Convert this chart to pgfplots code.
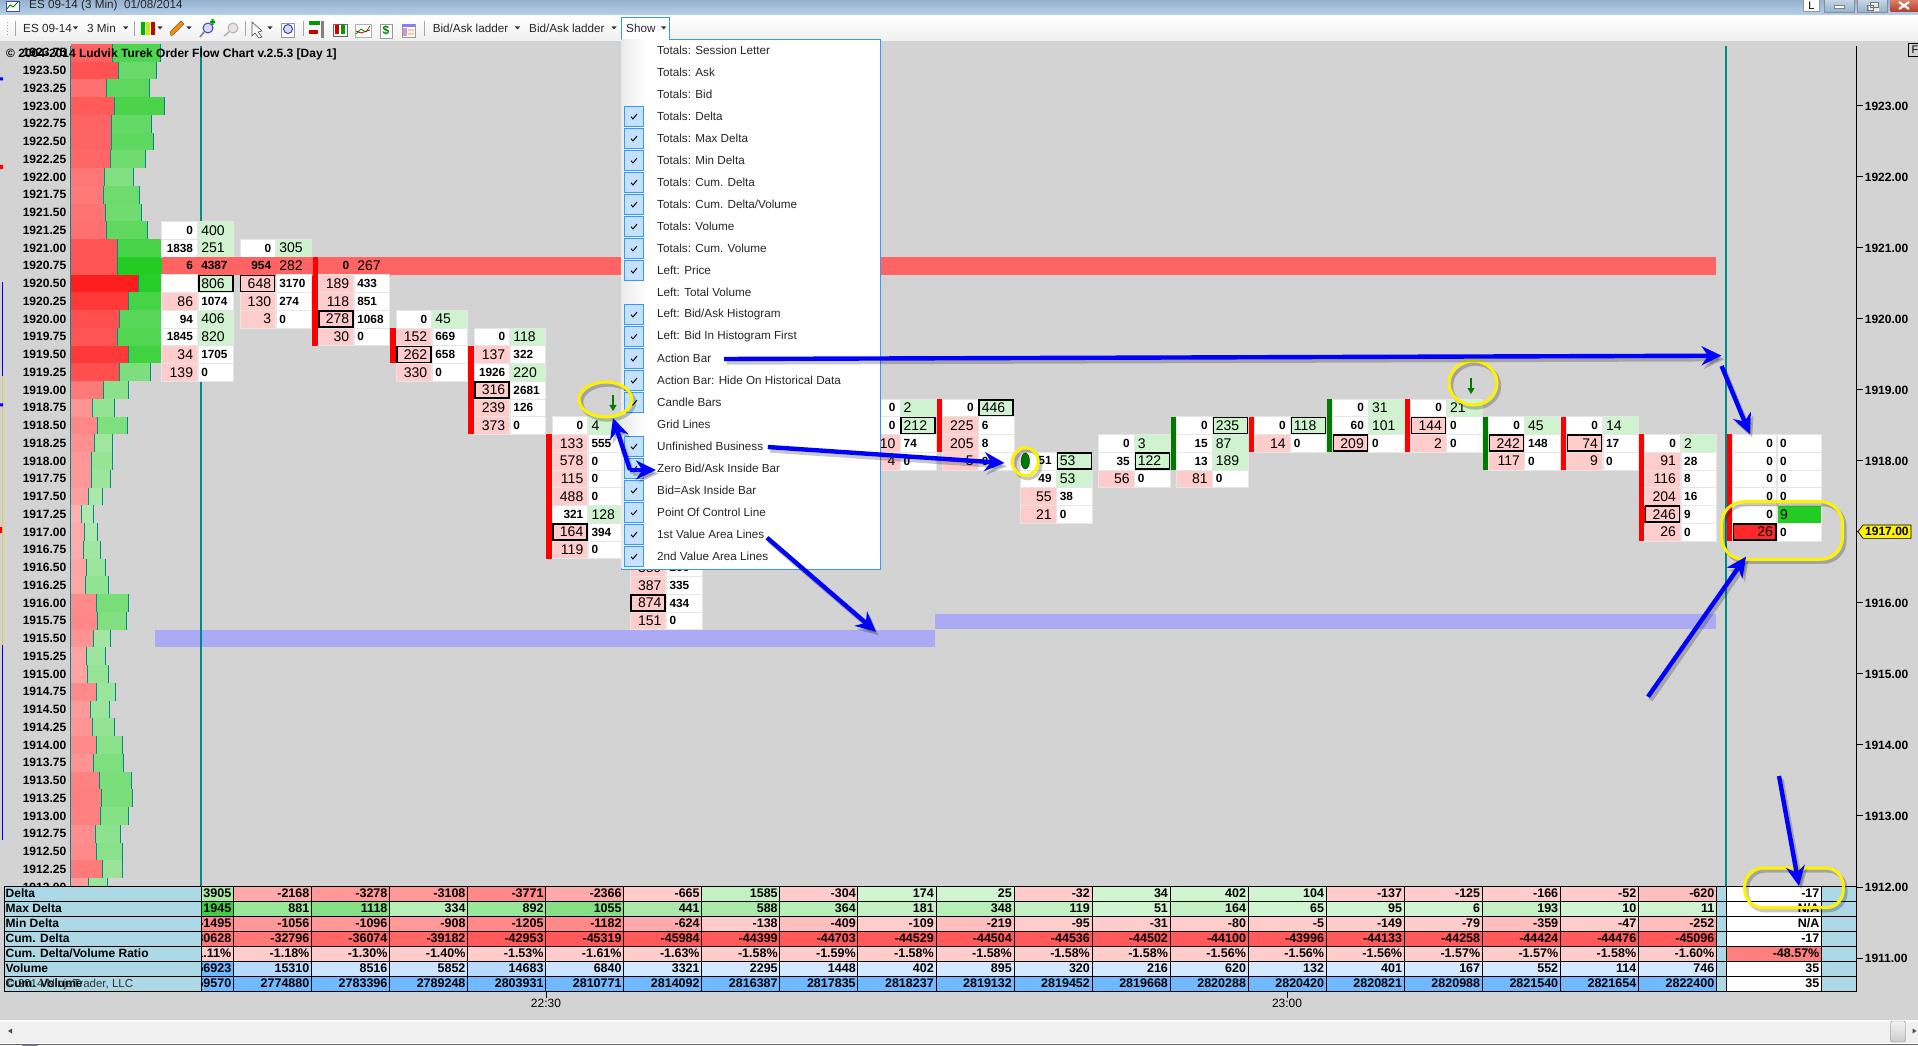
\documentclass[border=0pt]{standalone}
\usepackage{fontspec}
\setmainfont{Liberation Sans}
\usepackage{pgfplots}
\usepackage{pgfplotstable}
\pgfplotsset{compat=1.18}
\usetikzlibrary{arrows.meta}
\definecolor{pk}{HTML}{FFCCCC}
\definecolor{gn}{HTML}{CFF2CF}
\definecolor{cellb}{HTML}{E6E6E6}
\definecolor{vr}{HTML}{FF6464}
\definecolor{va}{HTML}{AAAAF5}
\definecolor{chart}{HTML}{D3D3D3}
\definecolor{tl}{HTML}{008B8B}
\definecolor{lb}{HTML}{ADD8E6}
\definecolor{dg}{HTML}{007A00}
\definecolor{mb}{HTML}{3399FF}
\definecolor{g0}{HTML}{D0F5D0}\definecolor{g1}{HTML}{C4F0C4}\definecolor{g2}{HTML}{B8EFB8}\definecolor{g3}{HTML}{ACE9A8}
\definecolor{g4}{HTML}{99E899}\definecolor{g5}{HTML}{85E085}\definecolor{g6}{HTML}{44CC44}
\definecolor{r0}{HTML}{FFCCCC}\definecolor{r1}{HTML}{FFBEBE}\definecolor{r2}{HTML}{FFAAAA}\definecolor{r3}{HTML}{FF9999}
\definecolor{r4}{HTML}{FF8888}\definecolor{r5}{HTML}{FF7777}\definecolor{r6}{HTML}{FF6666}\definecolor{r7}{HTML}{FF5959}
\definecolor{b0}{HTML}{D4E8FF}\definecolor{b1}{HTML}{CCE4FF}\definecolor{b2}{HTML}{B8DAFF}\definecolor{b3}{HTML}{70B8FF}
% plot marks, 1pt = 1 pixel of the reference
\pgfdeclareplotmark{cb}{\pgfpathrectangle{\pgfqpoint{-17.8pt}{-8.875pt}}{\pgfqpoint{35.6pt}{17.75pt}}\pgfusepathqfillstroke}
\pgfdeclareplotmark{cx}{\pgfpathrectangle{\pgfqpoint{-17pt}{-8pt}}{\pgfqpoint{34pt}{16pt}}\pgfusepathqfillstroke}
\pgfdeclareplotmark{lb}{\pgfpathrectangle{\pgfqpoint{-22pt}{-8.875pt}}{\pgfqpoint{44pt}{17.75pt}}\pgfusepathqfillstroke}
\pgfdeclareplotmark{lx}{\pgfpathrectangle{\pgfqpoint{-21.2pt}{-8pt}}{\pgfqpoint{42.4pt}{16pt}}\pgfusepathqfillstroke}
\pgfdeclareplotmark{tb}{\pgfpathrectangle{\pgfqpoint{-39.025pt}{-7.5pt}}{\pgfqpoint{78.05pt}{15pt}}\pgfusepathqfillstroke}
\pgfdeclareplotmark{tl}{\pgfpathrectangle{\pgfqpoint{-56.475pt}{-7.5pt}}{\pgfqpoint{95.5pt}{15pt}}\pgfusepathqfillstroke}
\pgfdeclareplotmark{tk}{\pgfpathmoveto{\pgfqpoint{0pt}{0pt}}\pgfpathlineto{\pgfqpoint{7pt}{0pt}}\pgfusepathqstroke}
\pgfdeclareplotmark{tm}{\pgfpathmoveto{\pgfqpoint{0pt}{0pt}}\pgfpathlineto{\pgfqpoint{0pt}{-6pt}}\pgfusepathqstroke}
\pgfdeclareplotmark{dn}{\pgfpathrectangle{\pgfqpoint{-.8pt}{-2pt}}{\pgfqpoint{1.6pt}{10pt}}\pgfusepathqfill
 \pgfpathmoveto{\pgfqpoint{-3.6pt}{-2pt}}\pgfpathlineto{\pgfqpoint{3.6pt}{-2pt}}\pgfpathlineto{\pgfqpoint{0pt}{-8pt}}\pgfpathclose\pgfusepathqfill}
\pgfdeclareplotmark{ub}{\pgfpathellipse{\pgfqpoint{0pt}{0pt}}{\pgfqpoint{4.3pt}{0pt}}{\pgfqpoint{0pt}{8pt}}\pgfusepathqfillstroke}
\pgfplotsset{
 cellcls/.style n args={2}{scatter/classes={
  w={mark=#1,fill=white,draw=cellb,line width=.7pt},
  p={mark=#1,fill=pk,draw=cellb,line width=.7pt},
  g={mark=#1,fill=gn,draw=cellb,line width=.7pt},
  r={mark=#1,fill=vr,draw=vr,line width=.2pt},
  R={mark=#1,fill=vr,draw=vr,line width=.2pt},
  P={mark=#2,fill=pk,draw=black,line width=1.6pt},
  G={mark=#2,fill=gn,draw=black,line width=1.6pt},
  S={mark=#1,fill={rgb,255:red,34;green,204;blue,34},draw=cellb,line width=.7pt},
  T={mark=#2,fill={rgb,255:red,255;green,40;blue,40},draw=black,line width=1.6pt}}},
 tcls/.style={scatter/classes={
  g0={mark=tb,fill=g0,draw=black,line width=.9pt},g1={mark=tb,fill=g1,draw=black,line width=.9pt},
  g2={mark=tb,fill=g2,draw=black,line width=.9pt},g3={mark=tb,fill=g3,draw=black,line width=.9pt},
  g4={mark=tb,fill=g4,draw=black,line width=.9pt},g5={mark=tb,fill=g5,draw=black,line width=.9pt},
  g6={mark=tb,fill=g6,draw=black,line width=.9pt},
  r0={mark=tb,fill=r0,draw=black,line width=.9pt},r1={mark=tb,fill=r1,draw=black,line width=.9pt},
  r2={mark=tb,fill=r2,draw=black,line width=.9pt},r3={mark=tb,fill=r3,draw=black,line width=.9pt},
  r4={mark=tb,fill=r4,draw=black,line width=.9pt},r5={mark=tb,fill=r5,draw=black,line width=.9pt},
  r6={mark=tb,fill=r6,draw=black,line width=.9pt},r7={mark=tb,fill=r7,draw=black,line width=.9pt},
  b0={mark=tb,fill=b0,draw=black,line width=.9pt},b1={mark=tb,fill=b1,draw=black,line width=.9pt},
  b2={mark=tb,fill=b2,draw=black,line width=.9pt},b3={mark=tb,fill=b3,draw=black,line width=.9pt},
  n={mark=tl,fill=white,draw=black,line width=.9pt},x={mark=tl,fill={rgb,255:red,255;green,127;blue,127},draw=black,line width=.9pt}}},
 lbl/.style={only marks,mark=none,point meta=explicit symbolic,clip=false,
   every node near coord/.append style={anchor=#1,inner sep=0pt,text=black}},
}
\def\cf{\ifdim\cls pt>0.5pt \bfseries\fontsize{11.8}{12}\else\fontsize{14}{14}\fi\selectfont}
\newcommand\addflag[3]{\pgfplotstablecreatecol[create col/assign/.code={\getthisrow{#2}\cc\def\res{0}\if w\cc\def\res{1}\fi\if r\cc\def\res{1}\fi\pgfkeyslet{/pgfplots/table/create col/next content}\res}]{#3}{#1}}
\pgfplotstableread{
col price bid bc ask ac
0 1921.25 0 w 400 g
0 1921.00 1838 w 251 g
0 1920.75 6 r 4387 r
0 1920.50 {} w 806 G
0 1920.25 86 p 1074 w
0 1920.00 94 w 406 g
0 1919.75 1845 w 820 g
0 1919.50 34 p 1705 w
0 1919.25 139 p 0 w
1 1921.00 0 w 305 g
1 1920.75 954 r 282 R
1 1920.50 648 P 3170 w
1 1920.25 130 p 274 w
1 1920.00 3 p 0 w
2 1920.75 0 r 267 R
2 1920.50 189 p 433 w
2 1920.25 118 p 851 w
2 1920.00 278 P 1068 w
2 1919.75 30 p 0 w
3 1920.00 0 w 45 g
3 1919.75 152 p 669 w
3 1919.50 262 P 658 w
3 1919.25 330 p 0 w
4 1919.75 0 w 118 g
4 1919.50 137 p 322 w
4 1919.25 1926 w 220 g
4 1919.00 316 P 2681 w
4 1918.75 239 p 126 w
4 1918.50 373 p 0 w
5 1918.50 0 w 4 g
5 1918.25 133 p 555 w
5 1918.00 578 p 0 w
5 1917.75 115 p 0 w
5 1917.50 488 p 0 w
5 1917.25 321 w 128 g
5 1917.00 164 P 394 w
5 1916.75 119 p 0 w
6 1916.50 389 p 266 w
6 1916.25 387 p 335 w
6 1916.00 874 P 434 w
6 1915.75 151 p 0 w
9 1918.75 0 w 2 g
9 1918.50 0 w 212 G
9 1918.25 10 p 74 w
9 1918.00 4 p 0 w
10 1918.75 0 w 446 G
10 1918.50 225 p 6 w
10 1918.25 205 p 8 w
10 1918.00 5 p 0 w
11 1918.00 51 w 53 G
11 1917.75 49 w 53 g
11 1917.50 55 p 38 w
11 1917.25 21 p 0 w
12 1918.25 0 w 3 g
12 1918.00 35 w 122 G
12 1917.75 56 p 0 w
13 1918.50 0 w 235 G
13 1918.25 15 w 87 g
13 1918.00 13 w 189 g
13 1917.75 81 p 0 w
14 1918.50 0 w 118 G
14 1918.25 14 p 0 w
15 1918.75 0 w 31 g
15 1918.50 60 w 101 g
15 1918.25 209 P 0 w
16 1918.75 0 w 21 g
16 1918.50 144 P 0 w
16 1918.25 2 p 0 w
17 1918.50 0 w 45 g
17 1918.25 242 P 148 w
17 1918.00 117 p 0 w
18 1918.50 0 w 14 g
18 1918.25 74 P 17 w
18 1918.00 9 p 0 w
19 1918.25 0 w 2 g
19 1918.00 91 p 28 w
19 1917.75 116 p 8 w
19 1917.50 204 p 16 w
19 1917.25 246 P 9 w
19 1917.00 26 p 0 w
}\cells
\pgfplotstableread{
price bid bc ask ac
1918.25 0 w 0 w
1918.00 0 w 0 w
1917.75 0 w 0 w
1917.50 0 w 0 w
1917.25 0 w 9 S
1917.00 26 T 0 w
}\livecells
\addflag{\cells}{bc}{bf}
\addflag{\cells}{ac}{af}
\addflag{\livecells}{bc}{bf}
\addflag{\livecells}{ac}{af}
\pgfplotstableread{
col D Dc M Mc N Nc C Cc Q Qc V Vc U Uc
0 3905 g3 1945 g6 -1495 r4 -30628 r5 -1.11 r0 56923 b3 2759570 b3
1 -2168 r2 881 g4 -1056 r3 -32796 r5 -1.18 r0 15310 b2 2774880 b3
2 -3278 r3 1118 g5 -1096 r3 -36074 r6 -1.30 r0 8516 b1 2783396 b3
3 -3108 r3 334 g2 -908 r3 -39182 r6 -1.40 r0 5852 b1 2789248 b3
4 -3771 r4 892 g4 -1205 r4 -42953 r7 -1.53 r0 14683 b2 2803931 b3
5 -2366 r2 1055 g5 -1182 r4 -45319 r7 -1.61 r0 6840 b1 2810771 b3
6 -665 r0 441 g3 -624 r2 -45984 r7 -1.63 r0 3321 b0 2814092 b3
7 1585 g1 588 g3 -138 r0 -44399 r7 -1.58 r0 2295 b0 2816387 b3
8 -304 r0 364 g2 -409 r1 -44703 r7 -1.59 r0 1448 b0 2817835 b3
9 174 g0 181 g1 -109 r0 -44529 r7 -1.58 r0 402 b0 2818237 b3
10 25 g0 348 g2 -219 r1 -44504 r7 -1.58 r0 895 b0 2819132 b3
11 -32 r0 119 g1 -95 r0 -44536 r7 -1.58 r0 320 b0 2819452 b3
12 34 g0 51 g0 -31 r0 -44502 r7 -1.58 r0 216 b0 2819668 b3
13 402 g0 164 g1 -80 r0 -44100 r7 -1.56 r0 620 b0 2820288 b3
14 104 g0 65 g0 -5 r0 -43996 r7 -1.56 r0 132 b0 2820420 b3
15 -137 r0 95 g0 -149 r0 -44133 r7 -1.56 r0 401 b0 2820821 b3
16 -125 r0 6 g0 -79 r0 -44258 r7 -1.57 r0 167 b0 2820988 b3
17 -166 r0 193 g1 -359 r1 -44424 r7 -1.57 r0 552 b0 2821540 b3
18 -52 r0 10 g0 -47 r0 -44476 r7 -1.58 r0 114 b0 2821654 b3
19 -620 r1 11 g0 -252 r1 -45096 r7 -1.60 r0 746 b0 2822400 b3
20.346 -17 n N/A n N/A n -17 n -48.57 x 35 n 35 n
}\tab
\pgfplotstableread{
p
1923.75
1923.50
1923.25
1923.00
1922.75
1922.50
1922.25
1922.00
1921.75
1921.50
1921.25
1921.00
1920.75
1920.50
1920.25
1920.00
1919.75
1919.50
1919.25
1919.00
1918.75
1918.50
1918.25
1918.00
1917.75
1917.50
1917.25
1917.00
1916.75
1916.50
1916.25
1916.00
1915.75
1915.50
1915.25
1915.00
1914.75
1914.50
1914.25
1914.00
1913.75
1913.50
1913.25
1913.00
1912.75
1912.50
1912.25
1912.00
}\leftp
\pgfplotstableread{
p
1923.00
1922.00
1921.00
1920.00
1919.00
1918.00
1917.00
1916.00
1915.00
1914.00
1913.00
1912.00
1911.00
}\rightp
% histogram row: price, end of bid part, end of ask part (read in crop units, 2.45 per pixel)
\newcommand\h[3]{%
 \pgfmathsetmacro\rx{#2/2.45}\pgfmathsetmacro\gx{#3/2.45}%
 \pgfmathsetmacro\ya{#1-.125}\pgfmathsetmacro\yb{#1+.125}%
 \pgfmathtruncatemacro\gv{205-175*min(1,(#2-173)/167)}%
 \pgfmathtruncatemacro\ra{207-173*min(1,(#3-#2)/160)}%
 \pgfmathtruncatemacro\ga{240-36*min(1,(#3-#2)/160)}%
 \edef\tmp{\noexpand\addplot[draw=none,fill={rgb,255:red,255;green,\gv;blue,\gv}] coordinates {(70.6,\ya)(\rx,\ya)(\rx,\yb)(70.6,\yb)} -- cycle;
 \noexpand\addplot[draw=none,fill={rgb,255:red,\ra;green,\ga;blue,\ra}] coordinates {(\rx,\ya)(\gx,\ya)(\gx,\yb)(\rx,\yb)} -- cycle;
 \noexpand\addplot[tl,line width=.9pt] coordinates {(\rx,\ya)(\rx,\yb)};
 \noexpand\addplot[tl,line width=.9pt] coordinates {(\gx,\ya)(\gx,\yb)};}\tmp}
% action bar: x, top price, bottom price, colour
\newcommand\ab[4]{\pgfmathsetmacro\ya{#2+.125}\pgfmathsetmacro\yb{#3-.125}%
 \edef\tmp{\noexpand\addplot[#4,line width=5.3pt] coordinates {(#1,\ya)(#1,\yb)};}\tmp}
\newcommand\trow[4]{%
 \addplot[scatter,only marks,point meta=explicit symbolic,tcls,scatter src=explicit symbolic] table[x expr=233.5+78.05*\thisrow{col}-39.025,y expr={1923-(893.5+15*#1-106)/71},meta=#3]{\tab};
 \addplot[lbl=east,nodes near coords={\bfseries\fontsize{12.5}{12.5}\selectfont\pgfplotspointmeta#4}] table[x expr=233.5+78.05*\thisrow{col}-2,y expr={1923-(893.5+15*#1-106)/71},meta=#2]{\tab};}
\begin{document}
\begin{tikzpicture}[x=1pt,y=1pt]
% window and chart background (pixel frame, y downwards)
\begin{scope}[y=-1pt,yshift=1045pt]
 \fill[chart] (0,41) rectangle (1918,1020);
\end{scope}
\begin{axis}[at={(0,0)},anchor=south west,scale only axis,width=1918pt,height=1045pt,
 xmin=0,xmax=1918,ymin=1909.7746,ymax=1924.49296,hide axis,clip=false]
 % value area lines
 \addplot[draw=none,fill=vr] coordinates {(155.4,1920.875)(1716,1920.875)(1716,1920.625)(155.4,1920.625)} -- cycle;
 \addplot[draw=none,fill=va] coordinates {(155.4,1915.62)(935,1915.62)(935,1915.385)(155.4,1915.385)} -- cycle;
 \addplot[draw=none,fill=va] coordinates {(935,1915.85)(1716,1915.85)(1716,1915.63)(935,1915.63)} -- cycle;
 % ladder cells
 \addplot[scatter,only marks,point meta=explicit symbolic,cellcls={cb}{cx}] table[x expr=155.45+78.05*\thisrow{col}+24.15,y=price,meta=bc]{\cells};
 \addplot[scatter,only marks,point meta=explicit symbolic,cellcls={cb}{cx}] table[x expr=155.45+78.05*\thisrow{col}+60.3,y=price,meta=ac]{\cells};
 \addplot[scatter,only marks,point meta=explicit symbolic,cellcls={lb}{lx}] table[x expr=1754.5,y=price,meta=bc]{\livecells};
 \addplot[scatter,only marks,point meta=explicit symbolic,cellcls={lb}{lx}] table[x expr=1799.6,y=price,meta=ac]{\livecells};
 \addplot[lbl=east,visualization depends on={\thisrow{bf}\as\cls},nodes near coords={\cf\pgfplotspointmeta}] table[x expr=155.45+78.05*\thisrow{col}+37.8,y=price,meta=bid]{\cells};
 \addplot[lbl=west,visualization depends on={\thisrow{af}\as\cls},nodes near coords={\cf\pgfplotspointmeta}] table[x expr=155.45+78.05*\thisrow{col}+45.6,y=price,meta=ask]{\cells};
 \addplot[lbl=east,visualization depends on={\thisrow{bf}\as\cls},nodes near coords={\cf\pgfplotspointmeta}] table[x expr=1773,y=price,meta=bid]{\livecells};
 \addplot[lbl=west,visualization depends on={\thisrow{af}\as\cls},nodes near coords={\cf\pgfplotspointmeta}] table[x expr=1780,y=price,meta=ask]{\livecells};
 % action bars
 \ab{315}{1920.75}{1919.75}{red}
 \ab{393}{1919.75}{1919.50}{red}
 \ab{471}{1919.50}{1918.50}{red}
 \ab{549.1}{1918.25}{1916.75}{red}
 \ab{939.4}{1918.75}{1918.25}{red}
 \ab{1173.6}{1918.50}{1918.00}{dg}
 \ab{1251.6}{1918.50}{1918.25}{red}
 \ab{1329.7}{1918.75}{1918.25}{dg}
 \ab{1407.7}{1918.75}{1918.25}{red}
 \ab{1485.8}{1918.50}{1918.00}{dg}
 \ab{1563.8}{1918.50}{1918.00}{red}
 \ab{1641.9}{1918.25}{1917.00}{red}
 \ab{1729.5}{1918.25}{1917.00}{red}
 % histogram
 \h{1923.75}{275}{393}\h{1923.50}{290}{384}\h{1923.25}{261}{366}\h{1923.00}{281}{403}
 \h{1922.75}{273}{371}\h{1922.50}{273}{376}\h{1922.25}{270}{357}\h{1922.00}{256}{327}
 \h{1921.75}{253}{342}\h{1921.50}{259}{347}\h{1921.25}{261}{362}\h{1921.00}{288}{413}
 \h{1920.75}{288}{450}\h{1920.50}{340}{493}\h{1920.25}{315}{440}\h{1920.00}{293}{401}
 \h{1919.75}{288}{403}\h{1919.50}{315}{447}\h{1919.25}{293}{369}\h{1919.00}{253}{315}
 \h{1918.75}{227}{281}\h{1918.50}{239}{313}\h{1918.25}{231}{275}\h{1918.00}{224}{275}
 \h{1917.75}{224}{270}\h{1917.50}{217}{251}\h{1917.25}{199}{229}\h{1917.00}{207}{239}
 \h{1916.75}{204}{246}\h{1916.50}{212}{259}\h{1916.25}{209}{266}\h{1916.00}{236}{315}
 \h{1915.75}{239}{310}\h{1915.50}{229}{271}\h{1915.25}{212}{259}\h{1915.00}{214}{266}
 \h{1914.75}{236}{283}\h{1914.50}{221}{268}\h{1914.25}{226}{281}\h{1914.00}{236}{300}
 \h{1913.75}{229}{303}\h{1913.50}{244}{322}\h{1913.25}{248}{325}\h{1913.00}{246}{315}
 \h{1912.75}{234}{295}\h{1912.50}{236}{300}\h{1912.25}{251}{300}\h{1912.00}{217}{264}
 \addplot[tl,line width=.8pt] coordinates {(70.4,1923.845)(70.4,1912)};
 % left prices
 \addplot[lbl=east,nodes near coords={\bfseries\fontsize{12}{12}\selectfont\pgfplotspointmeta}] table[x expr=66.4,y=p,meta=p]{\leftp};
 % action arrows and unfinished business
 \addplot[only marks,mark=dn,dg,mark options={fill=dg,draw=dg}] coordinates {(613,1918.817)(1471,1919.056)};
 \addplot[only marks,mark=ub,mark options={fill=dg,draw=black,line width=.3pt}] coordinates {(1025.3,1918.0)};
 % teal session lines
 \addplot[tl,line width=1.1pt] coordinates {(201,1923.845)(201,1912)};
 \addplot[tl,line width=1.1pt] coordinates {(1726,1923.845)(1726,1912)};
 % totals table
 \trow{0}{D}{Dc}{}
 \trow{1}{M}{Mc}{}
 \trow{2}{N}{Nc}{}
 \trow{3}{C}{Cc}{}
 \trow{4}{Q}{Qc}{\%}
 \trow{5}{V}{Vc}{}
 \trow{6}{U}{Uc}{}
 % price axis
 \addplot[black,line width=1.2pt] coordinates {(1856.3,1923.845)(1856.3,1910.535)};
 \addplot[only marks,mark=tk,black,line width=1pt,point meta=explicit symbolic,nodes near coords={\bfseries\fontsize{12}{12}\selectfont\pgfplotspointmeta},
   every node near coord/.append style={anchor=west,inner sep=0pt,xshift=8pt,text=black}] table[x expr=1856.3,y=p,meta=p]{\rightp};
 % time axis
 \addplot[only marks,mark=tm,black,line width=.9pt,point meta=explicit symbolic,nodes near coords={\fontsize{12}{12}\selectfont\pgfplotspointmeta},
   every node near coord/.append style={anchor=north,inner sep=0pt,yshift=-7pt,text=black}] table[x=x,y=y,meta=t]{
 x y t
 546 1910.521 22:30
 1287 1910.521 23:00
 };
\end{axis}
% everything that is not data: window chrome, menu, annotations, in reference pixels
\begin{scope}[y=-1pt,yshift=1045pt]
 % label cells of table and its right end
 \foreach \j/\t in {0/{Delta},1/{Max Delta},2/{Min Delta},3/{Cum. Delta},4/{Cum. Delta/Volume Ratio},5/{Volume},6/{Cum. Volume}}{
  \fill[lb,draw=black,line width=.9pt] (4,886+15*\j) rectangle (201,901+15*\j);
  \node[anchor=west,inner sep=0pt,font=\bfseries\fontsize{12}{12}\selectfont] at (5.5,893.5+15*\j) {\t};
 }
 \fill[lb,draw=black,line width=.9pt] (1716,886) rectangle (1726,991);
 \fill[lb,draw=black,line width=.9pt] (1821.5,886) rectangle (1856.3,991);
 \foreach \j in {1,...,6}{\draw[black,line width=.9pt] (1716,886+15*\j) -- (1726,886+15*\j) (1821.5,886+15*\j) -- (1856.3,886+15*\j);}
 \node[anchor=west,inner sep=0pt,text=black!80,font=\fontsize{11.5}{12}\selectfont] at (6,985) {© 2014 NinjaTrader, LLC};
 % left-edge markers
 \draw[blue,line width=.8pt] (2.4,282) -- (2.4,376) (2.4,645) -- (2.4,840);
 \draw[yellow!85!black,line width=.8pt] (2.4,376) -- (2.4,645);
 \fill[blue] (0,77.5) rectangle (3,80.5) (0,403.5) rectangle (3,406.5);
 \fill[red] (0,165) rectangle (3,169) (0,527) rectangle (2,533);
 % chart title
 \node[anchor=west,inner sep=0pt,font=\bfseries\fontsize{12}{12}\selectfont] at (6,54) {© 2004-2014 Ludvik Turek Order Flow Chart v.2.5.3 [Day 1]};
 % F box
 \draw[black,fill=chart,line width=.9pt] (1908.5,43.5) rectangle (1920,56.5);
 \node[inner sep=0pt,font=\fontsize{11}{12}\selectfont] at (1915,50) {F};
 % current price tag
 \fill[yellow,draw=black,line width=.7pt] (1858,531.7) -- (1863,525) -- (1911,525) -- (1911,538.4) -- (1863,538.4) -- cycle;
 \node[anchor=west,inner sep=0pt,font=\bfseries\fontsize{12}{12}\selectfont] at (1865,531.7) {1917.00};
 % title bar and toolbar
 \shade[top color={rgb,255:red,150;green,178;blue,208},bottom color={rgb,255:red,186;green,210;blue,234}] (0,0) rectangle (1918,16);
 \shade[top color=white,bottom color={rgb,255:red,240;green,240;blue,240}] (0,16) rectangle (1918,41);
 \fill[white,draw=blue!40!gray,line width=.6pt] (6,1) rectangle (19,11);
 \draw[green!50!black,line width=.9pt] (7,9) -- (10,5) -- (13,7) -- (18,2);
 \node[anchor=west,inner sep=0pt,font=\fontsize{11.7}{12}\selectfont,text=black!85] at (29,5.5) {ES 09-14 (3 Min)\ \ 01/08/2014};
 \foreach \x/\t in {23/{ES 09-14},87/{3 Min},432.6/{Bid/Ask ladder},529/{Bid/Ask ladder}}{
  \node[anchor=west,inner sep=0pt,font=\fontsize{11.7}{12}\selectfont,text=black!85] at (\x,28) {\t};}
 \foreach \x in {75.5,125.7,160,189,270,517.5,614}{\fill[black!80] (\x-2.5,26.5) -- (\x+2.5,26.5) -- (\x,29.5) -- cycle;}
 \foreach \x in {15.5,134.7,245,303,424.5}{\draw[black!35,line width=.7pt] (\x,21) -- (\x,36);}
 \foreach \y in {22,25,28,31,34}{\fill[black!35] (6.5,\y) rectangle (8,\y+1.4);}
 % toolbar icons
 \fill[green!70!black] (141,22) rectangle (145,35); \fill[yellow!80!green] (146,22) rectangle (150,35); \fill[red!80!black] (151,22) rectangle (155,35);
 \fill[orange!90!yellow,draw=black!60,line width=.4pt] (171,36) -- (170,32) -- (181,21) -- (184,24) -- (173,35) -- cycle;
 \draw[blue!50!gray,fill=blue!15,line width=1pt] (208,28) circle (5); \draw[gray,line width=1.6pt] (204,32) -- (200,37); \fill[green!60!black] (210,21) rectangle (215,23) (211.5,19) rectangle (213.5,25);
 \draw[gray!60,fill=gray!20,line width=1pt] (233,28) circle (5); \draw[gray!60,line width=1.6pt] (229,32) -- (224,36);
 \fill[white,draw=black!70,line width=.6pt] (252,22) -- (262,31) -- (258,32) -- (262,37) -- (259,38) -- (255,33) -- (252,36) -- cycle;
 \fill[white,draw=black!40,line width=.5pt] (281,23) rectangle (294,37); \draw[blue!50!gray,fill=blue!15,line width=1pt] (288,29) circle (4.5);
 \fill[green!60!black] (309,21) rectangle (320,25); \fill[red!80!black] (309,30) rectangle (318,34); \fill[black!50] (321,21) rectangle (324,38);
 \fill[red!80!black] (335,25) rectangle (339,34); \fill[green!60!black] (341,25) rectangle (345,34); \draw[black!60,line width=.6pt] (333,24) rectangle (347,36);
 \fill[white,draw=black!30,line width=.5pt] (355,24) rectangle (371,37); \draw[green!60!black,line width=.8pt] (356,34) -- (361,29) -- (366,32) -- (370,26); \draw[red!70!black,line width=.8pt] (356,31) -- (361,33) -- (370,30);
 \fill[white,draw=black!40,line width=.5pt] (380,24) rectangle (392,38);
 \node[inner sep=0pt,text=green!50!black,font=\bfseries\fontsize{12}{12}\selectfont] at (386,31) {\$};
 \fill[white,draw=black!40,line width=.5pt] (402,24) rectangle (415,37); \fill[blue!50] (402,24) rectangle (415,27); \fill[violet!40] (403,28) rectangle (407,36); \fill[orange!40] (408,29) rectangle (414,31) (408,33) rectangle (414,35);
 % window buttons
 \fill[white,draw=black!40,line width=1pt] (1803.4,0) rectangle (1819.6,12); \node[inner sep=0pt,font=\fontsize{11}{12}\selectfont] at (1811.5,5.5) {L};
 \foreach \a/\b in {1824/1854,1857.6/1887}{\shade[top color={rgb,255:red,200;green,216;blue,232},bottom color={rgb,255:red,150;green,178;blue,208},draw=black!45] (\a,-1) rectangle (\b,12);}
 \fill[white,draw=black!50,line width=.5pt] (1834,5) rectangle (1844,8.5);
 \draw[white,fill=black!10,line width=.8pt] (1869,3.5) rectangle (1878,10);
 \draw[black!55,line width=.8pt] (1867,5) rectangle (1873,10) (1870,2) rectangle (1878,7);
 \shade[top color={rgb,255:red,225;green,130;blue,110},bottom color={rgb,255:red,180;green,60;blue,45}] (1890.7,-1) rectangle (1918,12);
 \draw[white,line width=2.2pt] (1899,2) -- (1909,9) (1909,2) -- (1899,9);
 % bottom scrollbar
 \fill[white] (0,1020) rectangle (1918,1022);
 \fill[black!6] (0,1022) rectangle (1918,1043);
 \fill[black!60] (0,1043.5) rectangle (1918,1045);
 \fill[black!70] (12,1028.5) -- (8,1031) -- (12,1033.5) -- cycle;
 \fill[black!70] (1912.5,1028.5) -- (1916.5,1031) -- (1912.5,1033.5) -- cycle;
 \shade[top color=black!5,bottom color=black!20,draw=black!50,rounded corners=1.5pt] (1890.7,1021) rectangle (1905.5,1042);
 \fill[blue!20!black!50] (22,1045) arc (180:0:8) -- cycle;
 % Show button and menu
 \fill[white,draw=mb,line width=.8pt] (621,17.5) rectangle (669,39.5);
 \node[anchor=west,inner sep=0pt,font=\fontsize{11.7}{12}\selectfont,text=black!85] at (626,28) {Show};
 \fill[black!80] (661.2,26.5) -- (666.2,26.5) -- (663.7,29.5) -- cycle;
 \fill[white,draw=mb,line width=.8pt] (621,39) rectangle (880.4,569.3);
 \fill[white] (621.5,37) rectangle (668.5,40);
 \shade[left color=black!8,right color=white] (621.5,39.5) rectangle (646,568.8);
 \foreach \i/\t/\c in {0/{Totals: Session Letter}/0,1/{Totals: Ask}/0,2/{Totals: Bid}/0,3/{Totals: Delta}/1,4/{Totals: Max Delta}/1,5/{Totals: Min Delta}/1,
  6/{Totals: Cum. Delta}/1,7/{Totals: Cum. Delta/Volume}/1,8/{Totals: Volume}/1,9/{Totals: Cum. Volume}/1,10/{Left: Price}/1,11/{Left: Total Volume}/0,
  12/{Left: Bid/Ask Histogram}/1,13/{Left: Bid In Histogram First}/1,14/{Action Bar}/1,15/{Action Bar: Hide On Historical Data}/1,16/{Candle Bars}/1,
  17/{Grid Lines}/0,18/{Unfinished Business}/1,19/{Zero Bid/Ask Inside Bar}/1,20/{Bid=Ask Inside Bar}/1,21/{Point Of Control Line}/1,
  22/{1st Value Area Lines}/1,23/{2nd Value Area Lines}/1}{
  \ifnum\c=1
   \fill[fill={rgb,255:red,196;green,225;blue,255},draw=mb,line width=.7pt] (624,40.7+22*\i) rectangle (643.7,60.7+22*\i);
   \draw[black,line width=.9pt] (631,50.7+22*\i) -- (633,53+22*\i) -- (637,48+22*\i);
  \fi
  \node[anchor=west,inner sep=0pt,font=\fontsize{11.7}{12}\selectfont,text=black!85] at (657,50.7+22*\i) {\t};
 }
 % yellow highlights
 \newcommand\yl[1]{\draw[black,opacity=.22,line width=3.4pt,shift={(2.5,3)}] #1; \draw[yellow,line width=3pt] #1;}
 \yl{(605.5,399.5) ellipse (26.5 and 17.5)}
 \yl{(1473,383) ellipse (24 and 22)}
 \yl{(1025.3,461.7) ellipse (13 and 14)}
 \yl{[rounded corners=22pt] (1721.6,501.7) rectangle (1842.5,559.3)}
 \yl{[rounded corners=18pt] (1744.7,868) rectangle (1843.3,907.7)}
 % blue arrows
 \newcommand\ar[1]{\draw[black,opacity=.22,line width=4.4pt,-{Stealth[length=20pt,width=19pt]},shift={(2.5,3.5)}] #1; \draw[blue,line width=4.4pt,-{Stealth[length=20pt,width=19pt]}] #1;}
 \ar{(724,359) -- (1721.6,355.7)}
 \ar{(1721.6,366) -- (1749.7,434)}
 \ar{(767.8,447) -- (1004.5,463)}
 \ar{(630,470) -- (613,418)}
 \ar{(630,470) -- (656,470)}
 \ar{(767,537.7) -- (876,631.7)}
 \ar{(1648,696.7) -- (1746,556.7)}
 \ar{(1779,776) -- (1799,886)}
\end{scope}
\pgfresetboundingbox
\useasboundingbox (0,0) rectangle (1918pt,1045pt);
\end{tikzpicture}
\end{document}
